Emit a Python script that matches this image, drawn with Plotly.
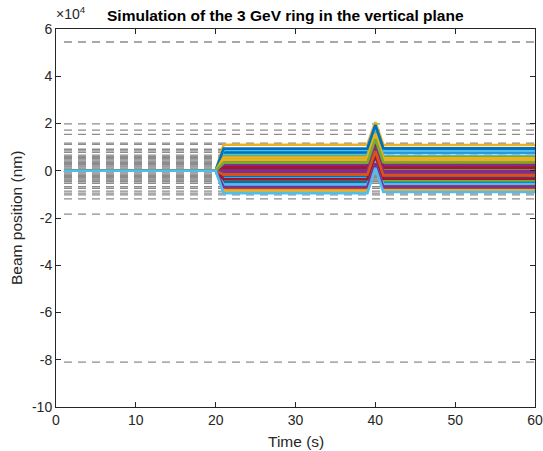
import plotly.graph_objects as go

# ---------------- data ----------------
time_s = list(range(1, 61))          # sample times (s)
t_kick1_end = 20                     # lines sit at 0 up to this sample
# per-line beam positions (nm)
level_a = [8200, 1500, -5500, 3800, 5200, -3000, 2200, 7400, -1200, 11000,
           -400, 600, 6600, -6500, -2200, 3000, 4500, 2600, -4200, 8800,
           1000, -4800, -7600, -8400, 200, 6000, -5900, -3600, 9400, -1700,
           5600, -6900, 3400, -9500]          # t = 21..39
spike = [18300, 11400, 4500, 13900, 15100, 7000, 12200, 17500, 8800, 20600,
         9600, 10600, 16500, 3600, 7800, 13000, 14500, 12600, 5800, 18700,
         11000, 5200, 2500, 1700, 10200, 16000, 4100, 6400, 19400, 8300,
         15600, 3100, 13400, 1200]            # t = 40
level_b = [8600, 1200, -6000, 4100, 4900, -2700, 2500, 7800, -1500, 10900,
           -700, 900, 6300, -6200, -2500, 2700, 4700, 2300, -4500, 8300,
           1300, -5200, -7300, -8000, -100, 5800, -5600, -3300, 9500, -2000,
           5300, -7000, 3600, -9000]          # t = 41..60

# dashed gray reference levels (nm)
gray_levels = [54500, 19800, 17200, 15400, 11700, 11200, 9100, 8400, 7800,
               6600, 6100, 5600, 5100, 4600, 4100, 3600, 3100, 2600, 2100,
               1600, 1100, 600, 100, -400, -900, -1400, -1900, -2400, -2900,
               -3400, -3900, -4300, -4600, -5300, -6700, -7400, -8600, -9500,
               -10200, -11900, -18400, -81000]

y_tick_vals = [-100000, -80000, -60000, -40000, -20000, 0, 20000, 40000, 60000]
y_tick_text = ["-10", "-8", "-6", "-4", "-2", "0", "2", "4", "6"]
x_tick_vals = [0, 10, 20, 30, 40, 50, 60]

matlab_colors = ["#0072BD", "#D95319", "#EDB120", "#7E2F8E",
                 "#77AC30", "#4DBEEE", "#A2142F"]

# ---------------- figure ----------------
fig = go.Figure()

for g in gray_levels:
    fig.add_trace(go.Scatter(
        x=[time_s[0], time_s[-1]], y=[g, g], mode="lines",
        line=dict(color="#8c8c8c", width=1.3, dash="8px,6px"),
        hoverinfo="skip", showlegend=False))

for i in range(len(level_a)):
    ys = []
    for t in time_s:
        if t <= t_kick1_end:
            ys.append(0)
        elif t < 40:
            ys.append(level_a[i])
        elif t == 40:
            ys.append(spike[i])
        else:
            ys.append(level_b[i])
    fig.add_trace(go.Scatter(
        x=time_s, y=ys, mode="lines",
        line=dict(color=matlab_colors[i % 7], width=2.7),
        showlegend=False))

axis_color = "#262626"
font_family = "Liberation Sans, Arial, sans-serif"

L, R, T, B = 56, 8, 29, 44
W, H = 543, 451
pw, ph = W - L - R, H - T - B


def px(x):
    return (x - L) / pw


def py(y):
    return (H - B - y) / ph


fig.update_layout(
    width=W, height=H,
    margin=dict(l=L, r=R, t=T, b=B, autoexpand=False),
    paper_bgcolor="white", plot_bgcolor="white",
    font=dict(family=font_family, size=14, color=axis_color),
    showlegend=False,
    xaxis=dict(range=[0, 60], tickvals=x_tick_vals, ticks="inside",
               ticklen=5, tickcolor=axis_color, showline=True,
               linecolor=axis_color, linewidth=1, mirror="ticks",
               showgrid=False, zeroline=False, automargin=False,
               tickfont=dict(size=14, color=axis_color)),
    yaxis=dict(range=[-100000, 60000], tickvals=y_tick_vals,
               ticktext=y_tick_text, ticks="inside", ticklen=5,
               tickcolor=axis_color, showline=True, linecolor=axis_color,
               linewidth=1, mirror="ticks", showgrid=False, zeroline=False,
               automargin=False,
               tickfont=dict(size=14, color=axis_color)),
    annotations=[
        dict(text="<b>Simulation of the 3 GeV ring in the vertical plane</b>",
             x=px(285), y=py(16), xref="paper", yref="paper",
             xanchor="center", yanchor="middle", showarrow=False,
             font=dict(size=15.5, color="black", family=font_family)),
        dict(text="×10<sup>4</sup>", x=px(54), y=py(13),
             xref="paper", yref="paper", xanchor="left", yanchor="middle",
             showarrow=False, font=dict(size=14, color=axis_color)),
        dict(text="Time (s)", x=px(296), y=py(441), xref="paper",
             yref="paper", xanchor="center", yanchor="middle",
             showarrow=False, font=dict(size=15.5, color=axis_color)),
        dict(text="Beam position (nm)", x=px(16), y=py(218),
             xref="paper", yref="paper", xanchor="center", yanchor="middle",
             textangle=-90, showarrow=False,
             font=dict(size=15.5, color=axis_color)),
    ],
)

fig.write_html("out.html", config={"displayModeBar": False},
               post_script="document.body.style.margin='0';")
